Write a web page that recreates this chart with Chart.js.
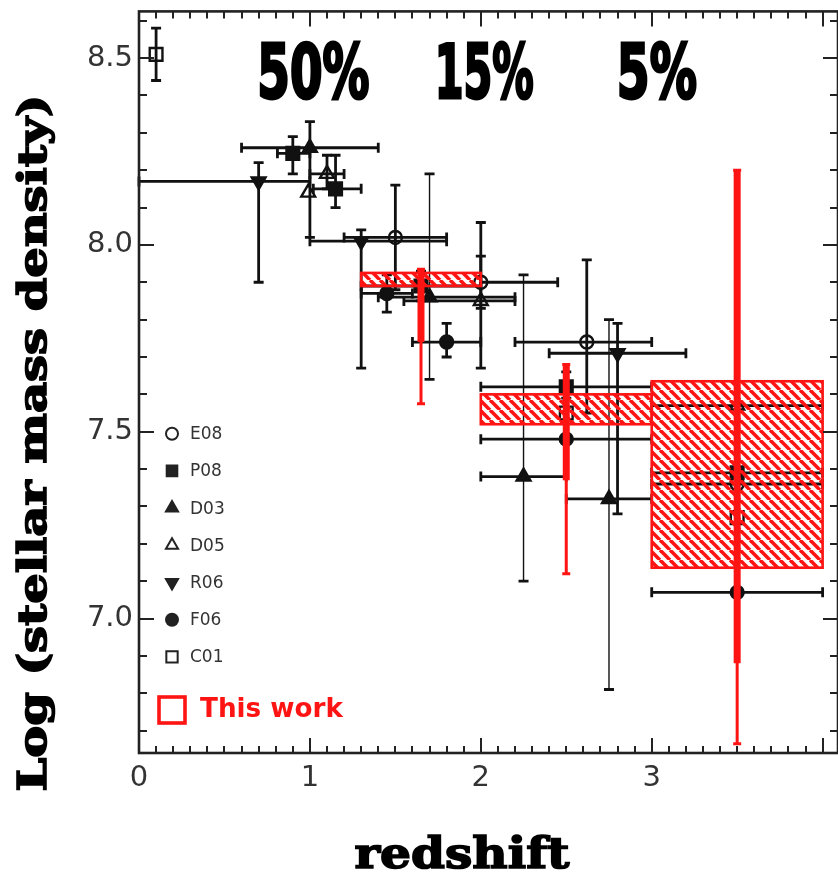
<!DOCTYPE html>
<html>
<head>
<meta charset="utf-8">
<script src="https://cdn.jsdelivr.net/npm/chart.js@4/dist/chart.umd.min.js"></script>
<style>
  html, body { margin: 0; padding: 0; background: #fff; overflow: hidden; }
  #wrap { width: 838px; height: 874px; }
  canvas { display: block; }
</style>
</head>
<body>
<div id="wrap"><canvas id="massChart"></canvas></div>
<script>
// literature points: redshift, log density, redshift range, density range
const E08 = [
  { x: 1.50, y: 8.02, xlo: 1.20, xhi: 1.80, ylo: 7.88, yhi: 8.16 },
  { x: 2.00, y: 7.90, xlo: 2.00, xhi: 2.45, ylo: 7.83, yhi: 7.97 },
  { x: 2.62, y: 7.74, xlo: 2.20, xhi: 3.00, ylo: 7.55, yhi: 7.96 },
  { x: 3.50, y: 7.36, xlo: 3.00, xhi: 4.00 }
];
const P08 = [
  { x: 0.90, y: 8.245, xlo: 0.81, xhi: 1.00, ylo: 8.19, yhi: 8.29 },
  { x: 1.15, y: 8.15, xlo: 1.02, xhi: 1.30, ylo: 8.10, yhi: 8.24 },
  { x: 1.65, y: 7.89, xlo: 1.30, xhi: 2.00, ylo: 7.85, yhi: 7.93 },
  { x: 2.50, y: 7.62, xlo: 2.00, xhi: 3.00, ylo: 7.59, yhi: 7.66 },
  { x: 3.50, y: 7.39, xlo: 3.00, xhi: 4.00 }
];
const D03 = [
  { x: 1.00, y: 8.26, xlo: 0.60, xhi: 1.40, ylo: 8.02, yhi: 8.33 },
  { x: 1.70, y: 7.86, xlo: 1.40, xhi: 2.20, ylo: 7.64, yhi: 8.19 },
  { x: 2.25, y: 7.38, xlo: 2.00, xhi: 2.50, ylo: 7.10, yhi: 7.92 },
  { x: 2.75, y: 7.32, xlo: 2.50, xhi: 3.00, ylo: 6.81, yhi: 7.80 }
];
const D05 = [
  { x: 0.99, y: 8.14 },
  { x: 1.10, y: 8.19, xlo: 1.00, xhi: 1.20, ylo: 8.15, yhi: 8.24 },
  { x: 2.00, y: 7.85, xlo: 1.55, xhi: 2.20, ylo: 7.67, yhi: 8.06 },
  { x: 3.50, y: 7.57, xlo: 3.00, xhi: 4.00 }
];
const R06 = [
  { x: 0.70, y: 8.17, xlo: 0.00, xhi: 1.00, ylo: 7.90, yhi: 8.22 },
  { x: 1.30, y: 8.01, xlo: 1.00, xhi: 1.80, ylo: 7.67, yhi: 8.04 },
  { x: 2.80, y: 7.71, xlo: 2.40, xhi: 3.20, ylo: 7.28, yhi: 7.79 }
];
const F06 = [
  { x: 1.45, y: 7.87, xlo: 1.30, xhi: 1.60, ylo: 7.82, yhi: 7.92 },
  { x: 1.80, y: 7.74, xlo: 1.60, xhi: 2.00, ylo: 7.70, yhi: 7.79 },
  { x: 2.50, y: 7.48, xlo: 2.00, xhi: 3.00 },
  { x: 3.50, y: 7.07, xlo: 3.00, xhi: 4.00 }
];
const C01 = [
  { x: 0.10, y: 8.51, ylo: 8.44, yhi: 8.58 },
  { x: 2.50, y: 7.55 },
  { x: 3.50, y: 7.27 }
];

// this work: redshift bins, hatched range, thick and thin error bars
const workBins = [[1.3, 2.0], [2.0, 3.0], [3.0, 4.0]];
const workBoxLo = [7.89, 7.52, 7.136];
const workBoxHi = [7.925, 7.60, 7.635];
const workZ = [1.65, 2.5, 3.5];
const workInner = [[7.74, 7.935], [7.37, 7.68], [6.88, 8.20]];
const workOuter = [[7.575, 7.935], [7.12, 7.68], [6.665, 8.20]];

const fractionText = ['50%', '15%', '5%'];
const fractionZ = [1.02, 2.02, 3.03];
const fractionY = 8.445;

const xTicks = [0, 1, 2, 3];
const yTicks = [7.0, 7.5, 8.0, 8.5];

const RED = '#ff1414';
const INK = '#111';
const PLOT_RIGHT = 838;

function makeHatch() {
  const c = document.createElement('canvas');
  c.width = 10; c.height = 10;
  const g = c.getContext('2d');
  g.strokeStyle = RED;
  g.lineWidth = 3.6;
  [-10, 0, 10].forEach(dx => {
    g.beginPath(); g.moveTo(dx, 0); g.lineTo(dx + 10, 10); g.stroke();
  });
  return c;
}

function fitText(ctx, text, cx, cy, width, rot, stroke) {
  const w = ctx.measureText(text).width;
  ctx.save();
  ctx.translate(cx, cy);
  if (rot) ctx.rotate(rot);
  ctx.scale(width / w, 1);
  ctx.textAlign = 'center';
  ctx.textBaseline = 'middle';
  ctx.fillText(text, 0, 0);
  if (stroke) ctx.strokeText(text, 0, 0);
  ctx.restore();
}

const overlay = {
  id: 'overlay',
  afterLayout(chart) {
    // stretch the plot to the right edge of the canvas
    const x = chart.scales.x;
    chart.chartArea.right = PLOT_RIGHT;
    chart.chartArea.width = PLOT_RIGHT - chart.chartArea.left;
    x.right = PLOT_RIGHT;
    x.width = PLOT_RIGHT - x.left;
    x.configure();
  },
  beforeDatasetsDraw(chart) {
    const { ctx, scales: { x, y } } = chart;
    ctx.save();
    ctx.strokeStyle = INK;
    ctx.lineCap = 'butt';
    chart.data.datasets.forEach(ds => {
      ds.data.forEach((p, i) => {
        const lw = ds.thinFrom !== undefined && i >= ds.thinFrom ? 1.4 : 2.8;
        const px = x.getPixelForValue(p.x), py = y.getPixelForValue(p.y);
        if (p.xlo !== undefined) {
          const a = x.getPixelForValue(p.xlo), b = x.getPixelForValue(p.xhi);
          ctx.lineWidth = 2.8;
          ctx.beginPath(); ctx.moveTo(a, py); ctx.lineTo(b, py);
          ctx.moveTo(a, py - 5); ctx.lineTo(a, py + 5);
          ctx.moveTo(b, py - 5); ctx.lineTo(b, py + 5);
          ctx.stroke();
        }
        if (p.ylo !== undefined) {
          const a = y.getPixelForValue(p.ylo), b = y.getPixelForValue(p.yhi);
          ctx.lineWidth = lw;
          ctx.beginPath(); ctx.moveTo(px, a); ctx.lineTo(px, b); ctx.stroke();
          ctx.lineWidth = 2.8;
          ctx.beginPath();
          ctx.moveTo(px - 5, a); ctx.lineTo(px + 5, a);
          ctx.moveTo(px - 5, b); ctx.lineTo(px + 5, b);
          ctx.stroke();
        }
      });
    });
    ctx.restore();
  },
  afterDatasetsDraw(chart) {
    const { ctx, scales: { x, y } } = chart;
    ctx.save();
    const hatch = ctx.createPattern(makeHatch(), 'repeat');
    workBins.forEach((bin, i) => {
      const l = x.getPixelForValue(bin[0]), r = x.getPixelForValue(bin[1]);
      const t = y.getPixelForValue(workBoxHi[i]), b = y.getPixelForValue(workBoxLo[i]);
      ctx.fillStyle = hatch;
      ctx.fillRect(l, t, r - l, b - t);
      ctx.strokeStyle = RED;
      ctx.lineWidth = 2.6;
      ctx.strokeRect(l, t, r - l, b - t);
    });
    workZ.forEach((z, i) => {
      const px = x.getPixelForValue(z);
      const o0 = y.getPixelForValue(workOuter[i][0]), o1 = y.getPixelForValue(workOuter[i][1]);
      const i0 = y.getPixelForValue(workInner[i][0]), i1 = y.getPixelForValue(workInner[i][1]);
      ctx.strokeStyle = RED;
      ctx.lineWidth = 3;
      ctx.beginPath(); ctx.moveTo(px, o0); ctx.lineTo(px, o1);
      ctx.moveTo(px - 4, o0); ctx.lineTo(px + 4, o0);
      ctx.moveTo(px - 4, o1); ctx.lineTo(px + 4, o1);
      ctx.stroke();
      ctx.lineWidth = 7;
      ctx.beginPath(); ctx.moveTo(px, i0); ctx.lineTo(px, i1); ctx.stroke();
    });
    ctx.restore();
  },
  afterDraw(chart) {
    const { ctx, chartArea: ca, scales: { x, y } } = chart;
    ctx.save();
    // frame and inward ticks
    ctx.strokeStyle = '#222';
    ctx.lineWidth = 2.6;
    ctx.strokeRect(ca.left, ca.top, ca.right - ca.left, ca.bottom - ca.top);
    ctx.lineWidth = 2;
    ctx.beginPath();
    for (let k = 0; k <= 40; k++) {
      const px = Math.round(x.getPixelForValue(k / 10));
      const len = k % 10 === 0 ? 15 : 7;
      ctx.moveTo(px, ca.bottom); ctx.lineTo(px, ca.bottom - len);
      ctx.moveTo(px, ca.top); ctx.lineTo(px, ca.top + len);
    }
    for (let k = 67; k <= 86; k++) {
      const py = Math.round(y.getPixelForValue(k / 10));
      const len = k % 5 === 0 ? 15 : 8;
      ctx.moveTo(ca.left, py); ctx.lineTo(ca.left + len, py);
      ctx.moveTo(ca.right, py); ctx.lineTo(ca.right - len, py);
    }
    ctx.stroke();

    // legend inside the plot
    const lx = 172;
    chart.data.datasets.forEach((ds, i) => {
      const ly = y.getPixelForValue(7.5) + 2 + i * 37.2;
      ctx.fillStyle = ds.backgroundColor === 'transparent' ? 'rgba(0,0,0,0)' : '#222';
      ctx.strokeStyle = '#222';
      Chart.helpers.drawPoint(ctx, {
        pointStyle: ds.pointStyle, radius: ds.legendRadius,
        rotation: ds.rotation || 0, borderWidth: 1.6
      }, lx, ly);
      ctx.fillStyle = '#333';
      ctx.font = '17px "DejaVu Sans"';
      ctx.textAlign = 'left';
      ctx.textBaseline = 'middle';
      ctx.fillText(ds.label, 190, ly + 1);
    });
    ctx.strokeStyle = RED;
    ctx.lineWidth = 3.6;
    ctx.strokeRect(159, 697, 26, 26);
    ctx.fillStyle = RED;
    ctx.font = 'bold 26px "DejaVu Sans"';
    const tw = ctx.measureText('This work').width;
    ctx.save(); ctx.translate(200, 710); ctx.scale(143 / tw, 1);
    ctx.textAlign = 'left'; ctx.textBaseline = 'middle';
    ctx.fillText('This work', 0, 0); ctx.restore();

    // fractions
    const fw = [112, 99, 80];
    ctx.fillStyle = '#000';
    ctx.strokeStyle = '#000';
    ctx.lineWidth = 3;
    ctx.font = 'bold 74px "Liberation Sans Narrow", "DejaVu Sans Condensed", "Liberation Sans"';
    fractionText.forEach((t, i) => {
      fitText(ctx, t, x.getPixelForValue(fractionZ[i]), y.getPixelForValue(fractionY), fw[i], 0, true);
    });

    // axis titles
    ctx.lineWidth = 1.6;
    ctx.font = 'bold 40px "DejaVu Serif", "Liberation Serif"';
    fitText(ctx, 'Log (stellar mass density)', 36, 443, 697, -Math.PI / 2, true);
    ctx.font = 'bold 42px "DejaVu Serif", "Liberation Serif"';
    fitText(ctx, 'redshift', 462, 857, 215, 0, true);
    ctx.restore();
  }
};

function series(label, data, style, extra) {
  return Object.assign({
    label: label,
    data: data,
    pointStyle: style.shape,
    pointRadius: style.r,
    legendRadius: style.lr,
    pointRotation: style.rot || 0,
    rotation: style.rot || 0,
    borderColor: INK,
    backgroundColor: style.open ? 'transparent' : INK,
    pointBorderWidth: 2.4,
    showLine: false
  }, extra || {});
}

new Chart(document.getElementById('massChart'), {
  type: 'scatter',
  data: {
    datasets: [
      series('E08', E08, { shape: 'circle', r: 6.5, lr: 6, open: true }),
      series('P08', P08, { shape: 'rect', r: 9, lr: 7.5 }),
      series('D03', D03, { shape: 'triangle', r: 8, lr: 7 }, { thinFrom: 1 }),
      series('D05', D05, { shape: 'triangle', r: 8, lr: 7, open: true }),
      series('R06', R06, { shape: 'triangle', r: 8, lr: 7, rot: 180 }),
      series('F06', F06, { shape: 'circle', r: 6.5, lr: 6 }),
      series('C01', C01, { shape: 'rect', r: 9, lr: 8, open: true })
    ]
  },
  options: {
    responsive: true,
    maintainAspectRatio: false,
    animation: false,
    layout: { padding: { top: 10, right: 0, left: 0, bottom: 0 } },
    plugins: { legend: { display: false }, tooltip: { enabled: false } },
    scales: {
      x: {
        type: 'linear', min: 0, max: 4.09,
        grid: { display: false, drawTicks: false },
        border: { display: false },
        afterFit(s) { s.height = 121; s.paddingLeft = 0; s.paddingRight = 0; },
        afterBuildTicks(s) { s.ticks = xTicks.map(v => ({ value: v })); },
        ticks: {
          padding: 8, color: '#333',
          font: { family: 'DejaVu Sans', size: 29 },
          callback: v => String(v)
        }
      },
      y: {
        type: 'linear', min: 6.64, max: 8.625,
        grid: { display: false, drawTicks: false },
        border: { display: false },
        afterFit(s) { s.width = 139; s.paddingTop = 0; s.paddingBottom = 0; },
        afterBuildTicks(s) { s.ticks = yTicks.map(v => ({ value: v })); },
        ticks: {
          padding: 6, color: '#333',
          font: { family: 'DejaVu Sans', size: 29 },
          callback: v => v.toFixed(1)
        }
      }
    }
  },
  plugins: [overlay]
});
</script>
</body>
</html>
